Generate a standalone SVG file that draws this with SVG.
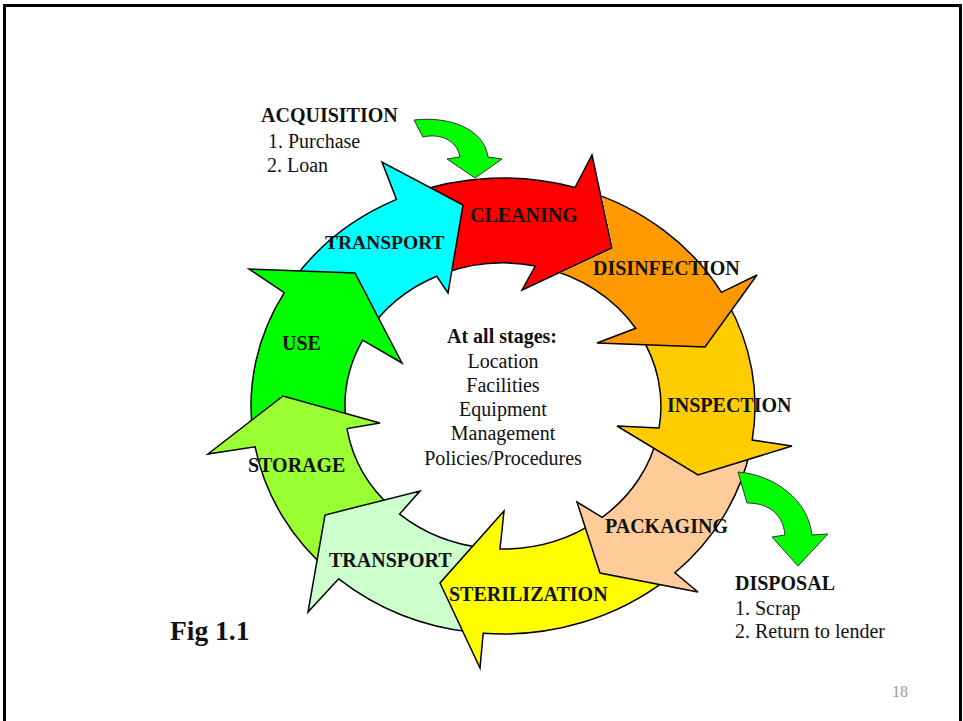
<svg xmlns="http://www.w3.org/2000/svg" width="963" height="721" viewBox="0 0 963 721">
<style>
.seg{stroke:#000;stroke-width:1.5;stroke-linejoin:miter}
.lbl{font-family:"Liberation Serif","Times New Roman",serif;font-weight:bold;font-size:20px;fill:#111}
.txt{font-family:"Liberation Serif","Times New Roman",serif;font-size:20px;fill:#111}
.flow{fill:#00FF00;stroke:#333;stroke-width:1}
</style>
<defs>
<clipPath id="clipOrange">
<path clip-rule="evenodd" d="M0,0 H963 V721 H0 Z M592.5,152.7 L613.1,248.5 L520.4,291.8 Z"/>
</clipPath>
</defs>
<rect x="0" y="0" width="963" height="721" fill="#fff"/>
<rect x="4.5" y="5.5" width="956" height="740" fill="none" stroke="#000" stroke-width="3"/>

<g id="cleaning">
<path class="seg" fill="#FF0000" d="M443.8,273.4 L446.5,227.7 L408.6,194.6 A252 228 0 0 1 575,187.5 L592,155 L612,248 L522,290 L535.3,266 A158 143 0 0 0 443.8,273.4 Z"/>
<text class="lbl" x="470" y="222">CLEANING</text>
</g>

<g id="transport-top">
<path class="seg" fill="#00FFFF" d="M366.2,334.5 L343.7,289.3 L291.7,281.8 A252 228 0 0 1 396.5,199.4 L382,162 L463,205 L448,293 L436.7,276.2 A158 143 0 0 0 366.2,334.5 Z"/>
<text class="lbl" x="325" y="249" style="font-size:19.5px">TRANSPORT</text>
</g>

<g id="use">
<path class="seg" fill="#00FF00" d="M346.2,423.4 L298.1,412.5 L252.9,433.8 A252 228 0 0 1 284.3,292.7 L249,269 L355,273 L402,363 L362.7,340.2 A158 143 0 0 0 346.2,423.4 Z"/>
<text class="lbl" x="282" y="350">USE</text>
</g>

<g id="storage">
<path class="seg" fill="#99FF33" d="M393.2,508.9 L348.3,527.7 L331.1,572.7 A252 228 0 0 1 255.1,446.8 L208,454 L283,396 L380,423 L347,428.6 A158 143 0 0 0 393.2,508.9 Z"/>
<text class="lbl" x="248" y="472">STORAGE</text>
</g>

<g id="transport-bottom">
<path class="seg" fill="#CCFFCC" d="M483.7,547.9 L456.9,586.7 L472.3,632.3 A252 228 0 0 1 338.7,578.8 L308,612 L325,515 L420,491 L399.6,514.1 A158 143 0 0 0 483.7,547.9 Z"/>
<text class="lbl" x="329" y="567">TRANSPORT</text>
</g>

<g id="sterilization">
<path class="seg" fill="#FFFF00" d="M595.9,521.7 L614.6,561.6 L668.3,578.1 A252 228 0 0 1 483.2,633.3 L480,668 L440,583 L504,511 L500,549 A158 143 0 0 0 595.9,521.7 Z"/>
<text class="lbl" x="449" y="601">STERILIZATION</text>
</g>

<g id="packaging">
<path class="seg" fill="#FFCC99" d="M658.1,433.3 L701,454 L750.4,449.5 A252 228 0 0 1 674.9,572.8 L698,592 L600,573 L577,502 L602.2,517.3 A158 143 0 0 0 658.1,433.3 Z"/>
<text class="lbl" x="605" y="533">PACKAGING</text>
</g>

<g id="inspection">
<path class="seg" fill="#FFCC00" d="M639.8,334.5 L690.3,330.6 L727.5,302.5 A252 228 0 0 1 752.2,440.1 L792,446 L698,475 L617,426 L659.1,427.9 A158 143 0 0 0 639.8,334.5 Z"/>
<text class="lbl" x="667" y="412">INSPECTION</text>
</g>

<g id="disinfection">
<path class="seg" fill="#FF9900" clip-path="url(#clipOrange)" d="M541.2,267.3 L579.8,234 L585,190.4 A252 228 0 0 1 721.5,292.3 L757,275 L705,347 L597,343 L635.7,328.3 A158 143 0 0 0 541.2,267.3 Z"/>
<text class="lbl" x="593" y="275">DISINFECTION</text>
</g>

<g id="connectors">
<path class="flow" d="M414,120 C448,116 484,128 488,157 L502,159 L475,178 L447,159 L460,157 C457,140 440,133 423,137 Z"/>
<path class="flow" d="M738,472 C775,475 808,500 812,535 L828,534 L798,566 L772,537 L785,535 C783,515 770,503 747,503 Z"/>
</g>

<g id="acquisition">
<text class="lbl" x="261" y="122">ACQUISITION</text>
<text class="txt" x="268" y="148">1. Purchase</text>
<text class="txt" x="267" y="172">2. Loan</text>
</g>

<g id="disposal">
<text class="lbl" x="735" y="590">DISPOSAL</text>
<text class="txt" x="735" y="615">1. Scrap</text>
<text class="txt" x="735" y="638">2. Return to lender</text>
</g>

<g id="center" text-anchor="middle">
<text class="lbl" x="502" y="343">At all stages:</text>
<text class="txt" x="503" y="368">Location</text>
<text class="txt" x="503" y="392">Facilities</text>
<text class="txt" x="503" y="416">Equipment</text>
<text class="txt" x="503" y="440">Management</text>
<text class="txt" x="503" y="465">Policies/Procedures</text>
</g>

<g id="caption">
<text class="lbl" x="170" y="640" style="font-size:27.5px">Fig 1.1</text>
<text x="892" y="697" style="font-family:'Liberation Serif','Times New Roman',serif;font-size:16px;fill:#999">18</text>
</g>
</svg>
